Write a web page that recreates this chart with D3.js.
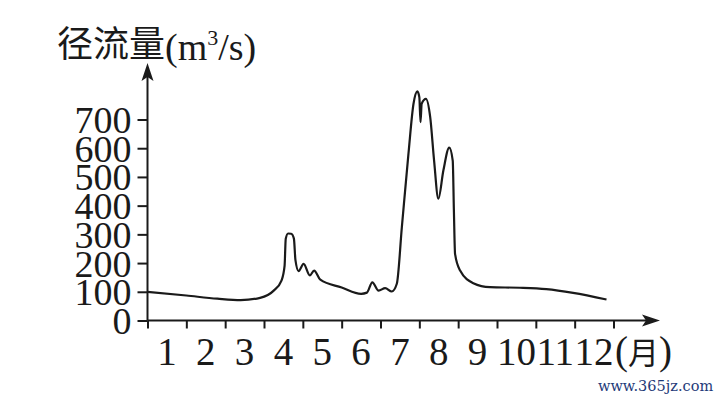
<!DOCTYPE html>
<html><head><meta charset="utf-8">
<script src="https://cdn.jsdelivr.net/npm/d3@7"></script>
<style>
html,body{margin:0;padding:0;background:#fff;}
svg{display:block;}
</style></head>
<body>
<svg id="c" width="720" height="401"></svg>
<script>
// ---- data ----
const monthLabels = ["1","2","3","4","5","6","7","8","9","10","11","12"];
const yTicks = [0,100,200,300,400,500,600,700];
const flowMonth = [0,1.0,1.8,2.4,2.9,3.25,3.45,3.53,3.56,3.62,3.7,3.77,3.81,3.89,4.02,4.18,4.29,4.45,5.0,5.5,5.65,5.79,5.95,6.12,6.29,6.42,6.55,6.72,6.85,6.95,7.0,7.03,7.06,7.17,7.28,7.38,7.49,7.62,7.77,7.86,7.89,7.92,8.05,8.39,8.82,9.59,10.27,10.96,11.82];
const flowValue = [100,87,76,71,79,104,139,190,285,303,302,285,210,172,197,157,174,142,115,93,97,133,104,113,101,128,325,581,755,798,778,691,755,772,708,557,424,523,602,557,383,232,174,130,116,114,109,96,73];
const yTitleCJK = "径流量";
const xUnit = "月";
const watermark = "www.365jz.com";

const svg = d3.select("#c");
const ox = 147.5, oy = 320.5;
const x = d3.scaleLinear().domain([0,12]).range([ox, 613.5]);
const y = d3.scaleLinear().domain([0,700]).range([oy, 119.5]);
const band = d3.scaleBand().domain(monthLabels).range([ox, 613.5]);
const ink = "#1a1a1a";
const serif = "'Liberation Serif','Times New Roman',serif";
const cjk = "'Noto Sans CJK SC','Noto Sans CJK JP',sans-serif";

// axes lines
svg.append("line").attr("x1",ox).attr("y1",oy).attr("x2",648).attr("y2",oy).attr("stroke",ink).attr("stroke-width",2);
svg.append("line").attr("x1",ox).attr("y1",oy).attr("x2",ox).attr("y2",75).attr("stroke",ink).attr("stroke-width",2);
// arrows
svg.append("path").attr("d",`M${ox},63 L${ox+6},81 L${ox},77 L${ox-6},81 Z`).attr("fill",ink);
svg.append("path").attr("d",`M660,${oy} L642,${oy-6} L646,${oy} L642,${oy+6} Z`).attr("fill",ink);

// y axis
const ya = svg.append("g").attr("transform",`translate(${ox},0)`)
  .call(d3.axisLeft(y).tickValues(yTicks).tickSize(10).tickFormat(d3.format("d")));
ya.select(".domain").remove();
ya.selectAll("line").attr("stroke",ink).attr("stroke-width",2);
ya.selectAll("text").attr("x",-16).attr("dy",null).attr("y",13)
  .attr("font-family",serif).attr("font-size",38).attr("fill",ink);

// x ticks
const xa = svg.append("g").attr("transform",`translate(0,${oy})`)
  .call(d3.axisBottom(x).tickValues(d3.range(0,13)).tickSize(8).tickFormat(""));
xa.select(".domain").remove();
xa.selectAll("line").attr("stroke",ink).attr("stroke-width",2);
// x labels
const xl = svg.append("g").attr("transform",`translate(0,${oy})`)
  .call(d3.axisBottom(band).tickSize(0));
xl.select(".domain").remove();
xl.selectAll("text").attr("y",44).attr("dy",null)
  .attr("font-family",serif).attr("font-size",39).attr("fill",ink);

// unit (月)
const u = svg.append("text").attr("x",615).attr("y",364).attr("fill",ink).attr("font-size",39);
u.append("tspan").attr("font-family",serif).text("(");
u.append("tspan").attr("font-family",cjk).attr("font-size",31).text(xUnit);
u.append("tspan").attr("font-family",serif).text(")");

// title
const t = svg.append("text").attr("x",57).attr("y",57).attr("fill",ink);
t.append("tspan").attr("font-family",cjk).attr("font-size",36).text(yTitleCJK);
t.append("tspan").attr("font-family",serif).attr("font-size",38).attr("dy",3).text("(m");
t.append("tspan").attr("font-family",serif).attr("font-size",22).attr("dy",-15).text("3");
t.append("tspan").attr("font-family",serif).attr("font-size",38).attr("dy",15).text("/s)");

// curve
const pts = flowMonth.map((m,i)=>[m, flowValue[i]]);
svg.append("path").datum(pts)
  .attr("d", d3.line().x(d=>x(d[0])).y(d=>y(d[1])).curve(d3.curveMonotoneX))
  .attr("fill","none").attr("stroke",ink).attr("stroke-width",2.2);

// watermark
svg.append("text").attr("x",598).attr("y",391).attr("font-family","'DejaVu Serif',serif")
  .attr("font-size",14.5).attr("fill","#1e3a78").text(watermark);
</script>
</body></html>
